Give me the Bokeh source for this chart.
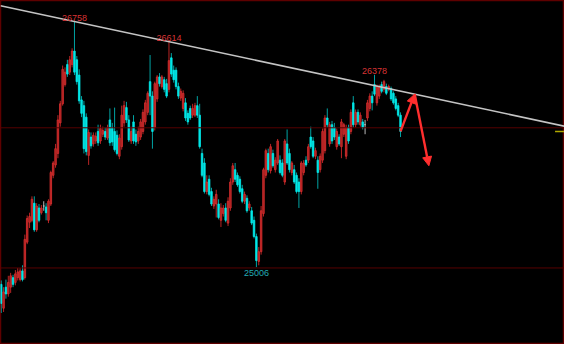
import numpy as np
from bokeh.plotting import figure
from bokeh.models import Range1d, Span, Arrow, NormalHead
from bokeh.core.properties import value
from bokeh.embed import file_html
from bokeh.resources import INLINE

opens = [24883, 24713, 24863, 24815, 24863, 24931, 24897, 24931, 24917, 24979,
         24931, 25184, 25326, 25340, 25462, 25272, 25428, 25394, 25442, 25435,
         25340, 25456, 25661, 25735, 25817, 26035, 26171, 26308, 26451, 26397,
         26451, 26547, 26485, 26376, 26199, 26158, 26076, 25803, 25934, 25885,
         25906, 25974, 25906, 25954, 25974, 25927, 26056, 26002, 25974, 25947,
         25797, 25865, 26035, 26144, 26056, 25906, 26042, 25954, 25906, 25934,
         25974, 26042, 26110, 26329, 26226, 26002, 26206, 26363, 26294, 26343,
         26315, 26274, 26499, 26411, 26411, 26294, 26212, 26138, 26178, 26103,
         26138, 26090, 26090, 26158, 26090, 25817, 25749, 25545, 25633, 25545,
         25442, 25456, 25456, 25340, 25388, 25428, 25320, 25428, 25613, 25701,
         25661, 25633, 25565, 25476, 25497, 25428, 25408, 25340, 25224, 25047,
         25116, 25388, 25661, 25817, 25694, 25817, 25701, 25749, 25769, 25749,
         25613, 25885, 25817, 25681, 25701, 25661, 25613, 25545, 25681, 25769,
         25769, 25934, 25906, 25797, 25769, 25701, 25769, 25837, 26070, 25885,
         26022, 26002, 25865, 25934, 25865, 25954, 25797, 26002, 25974, 26178,
         26022, 26110, 26022, 26042, 26022, 26070, 26138, 26226, 26308, 26178,
         26226, 26308, 26274, 26294, 26274, 26280, 26246, 26206, 26158, 26090]
highs = [24911, 24863, 24917, 24944, 24965, 24951, 24985, 24999, 24999, 25019,
         25238, 25374, 25394, 25511, 25511, 25462, 25456, 25449, 25476, 25462,
         25490, 25694, 25762, 25885, 26090, 26192, 26444, 26431, 26485, 26512,
         26567, 26758, 26512, 26417, 26226, 26192, 26103, 25988, 25967, 25967,
         25967, 26022, 26022, 26008, 26002, 26022, 26138, 26035, 26144, 25981,
         25954, 26158, 26192, 26185, 26090, 26008, 26090, 25988, 26008, 26063,
         26131, 26199, 26260, 26519, 26260, 26329, 26376, 26390, 26376, 26363,
         26349, 26614, 26533, 26444, 26431, 26322, 26280, 26267, 26212, 26124,
         26158, 26171, 26178, 26226, 26171, 25851, 25783, 25661, 25661, 25572,
         25511, 25558, 25490, 25462, 25449, 25462, 25504, 25640, 25749, 25749,
         25681, 25654, 25593, 25545, 25518, 25476, 25435, 25367, 25245, 25149,
         25442, 25715, 25851, 25851, 25885, 25844, 25790, 25920, 25803, 25776,
         25920, 25988, 25851, 25762, 25735, 25681, 25640, 25762, 25769, 25797,
         25885, 26008, 25934, 25858, 25797, 25817, 25995, 26090, 26138, 26042,
         26049, 26035, 25995, 25954, 26063, 26035, 26022, 26022, 26131, 26226,
         26131, 26131, 26110, 26063, 26056, 26199, 26246, 26260, 26378, 26308,
         26308, 26329, 26342, 26315, 26308, 26294, 26260, 26226, 26178, 26110]
lows = [24679, 24686, 24781, 24795, 24822, 24863, 24876, 24911, 24904, 24904,
        24917, 25170, 25285, 25326, 25258, 25258, 25326, 25381, 25408, 25340,
        25320, 25442, 25640, 25715, 25783, 26008, 26158, 26294, 26363, 26376,
        26431, 26376, 26308, 26171, 26076, 25817, 25803, 25735, 25851, 25865,
        25885, 25871, 25885, 25934, 25913, 25913, 25871, 25871, 25830, 25803,
        25776, 25844, 26008, 26035, 25899, 25885, 25885, 25871, 25885, 25913,
        25954, 26022, 26090, 26090, 25851, 25981, 26185, 26294, 26280, 26253,
        26212, 26253, 26363, 26322, 26274, 26206, 26192, 26117, 26049, 26022,
        26056, 26070, 26076, 26070, 25851, 25647, 25531, 25525, 25511, 25442,
        25421, 25360, 25347, 25292, 25367, 25326, 25299, 25408, 25593, 25613,
        25579, 25531, 25462, 25456, 25394, 25408, 25306, 25211, 25006, 25019,
        25095, 25367, 25640, 25681, 25674, 25715, 25681, 25735, 25667, 25647,
        25593, 25735, 25681, 25661, 25599, 25531, 25428, 25525, 25661, 25722,
        25749, 25851, 25783, 25776, 25565, 25681, 25749, 25817, 26002, 25865,
        25885, 25913, 25844, 25871, 25783, 25934, 25776, 25885, 25954, 26002,
        26002, 26022, 26008, 25988, 25954, 26049, 26117, 26124, 26226, 26158,
        26206, 26246, 26253, 26233, 26260, 26192, 26165, 26124, 26076, 25934]
closes = [24747, 24829, 24815, 24897, 24944, 24883, 24958, 24972, 24979, 24917,
          25204, 25353, 25367, 25490, 25272, 25442, 25340, 25428, 25442, 25394,
          25476, 25681, 25749, 25851, 26056, 26171, 26417, 26397, 26383, 26485,
          26547, 26397, 26329, 26192, 26103, 25851, 25830, 25967, 25871, 25947,
          25940, 25893, 25995, 25981, 25934, 26002, 25893, 25899, 25844, 25817,
          25927, 26090, 26158, 26056, 25913, 25974, 25906, 25899, 25974, 26042,
          26110, 26178, 26246, 26226, 25974, 26315, 26363, 26315, 26363, 26274,
          26226, 26479, 26383, 26343, 26294, 26226, 26260, 26246, 26070, 26042,
          26070, 26138, 26158, 26090, 25865, 25661, 25545, 25613, 25525, 25456,
          25490, 25525, 25360, 25428, 25428, 25340, 25476, 25613, 25729, 25633,
          25593, 25545, 25476, 25525, 25408, 25456, 25320, 25224, 25053, 25116,
          25408, 25701, 25837, 25701, 25865, 25729, 25769, 25906, 25681, 25661,
          25906, 25749, 25701, 25749, 25613, 25545, 25545, 25749, 25749, 25735,
          25865, 25865, 25797, 25837, 25681, 25797, 25974, 26070, 26022, 26022,
          25906, 25934, 25974, 25885, 26042, 26022, 26002, 25906, 26110, 26022,
          26110, 26042, 26090, 26002, 26022, 26178, 26226, 26178, 26240, 26294,
          26294, 26260, 26329, 26246, 26294, 26206, 26178, 26138, 26090, 25974]

peak_idx = [31, 71, 158]
peak_val = [26758, 26614, 26378]
trough_idx = [108]
trough_val = [25006]
ref_levels = [26000, 25000]
forecast_idx = [169, 175, 181]
forecast_val = [25974, 26240, 25729]

o = np.array(opens, dtype=float)
h = np.array(highs, dtype=float)
l = np.array(lows, dtype=float)
c = np.array(closes, dtype=float)
idx = np.arange(len(o))

UP_FILL, UP_LINE, UP_WICK = "#a81e1e", "#d83030", "#b82424"
DN_FILL, DN_WICK = "#00e8e8", "#00a4a4"
FLAT = "#b8b8b8"

body_fill = np.where(c > o, UP_FILL, np.where(c < o, DN_FILL, FLAT))
body_line = np.where(c > o, UP_LINE, np.where(c < o, DN_FILL, FLAT))
wick_col = np.where(c > o, UP_WICK, np.where(c < o, DN_WICK, FLAT))

x_rng = Range1d(-0.3, 238.4)
y_rng = Range1d(24454, 26908)

p = figure(width=564, height=344, x_range=x_rng, y_range=y_rng,
           output_backend="svg", toolbar_location=None,
           x_axis_location=None, y_axis_location=None,
           background_fill_color="#000000", border_fill_color="#000000",
           min_border=0, outline_line_color="#5e0000", outline_line_width=1.5)
p.xgrid.visible = False
p.ygrid.visible = False

for lv in ref_levels:
    p.add_layout(Span(location=lv, dimension="width", line_color="#560000", line_width=1))

# descending trendline through the two major highs, extended across the chart
slope = (peak_val[1] - peak_val[0]) / (peak_idx[1] - peak_idx[0])
tx = [x_rng.start, x_rng.end]
ty = [peak_val[0] + slope * (xx - peak_idx[0]) for xx in tx]

p.segment(x0=idx, y0=h, x1=idx, y1=l, line_color=wick_col, line_width=1)
p.vbar(x=idx, top=np.maximum(o, c), bottom=np.minimum(o, c), width=0.66,
       fill_color=body_fill, line_color=body_line, line_width=0.8)

p.line(tx, ty, line_color="#c4c4c4", line_width=1.6)

# last price marker at right edge
p.segment(x0=[x_rng.end - 4], y0=[c[-1]], x1=[x_rng.end], y1=[c[-1]],
          line_color="#b0a800", line_width=1.5)

p.text(x=peak_idx, y=peak_val, text=[str(v) for v in peak_val],
       text_align="center", text_baseline="bottom", y_offset=-1,
       text_color="#d83434", text_font=value("Liberation Sans"), text_font_size="9px")
p.text(x=trough_idx, y=trough_val, text=[str(v) for v in trough_val],
       text_align="center", text_baseline="top", y_offset=3,
       text_color="#22aab4", text_font=value("Liberation Sans"), text_font_size="9px")

for i in range(len(forecast_idx) - 1):
    p.add_layout(Arrow(end=NormalHead(size=9, fill_color="#ff2e2e", line_color="#ff2e2e"),
                       x_start=forecast_idx[i], y_start=forecast_val[i],
                       x_end=forecast_idx[i + 1], y_end=forecast_val[i + 1],
                       line_color="#ff2e2e", line_width=2.4))

open("out.html", "w").write(file_html(p, INLINE))
